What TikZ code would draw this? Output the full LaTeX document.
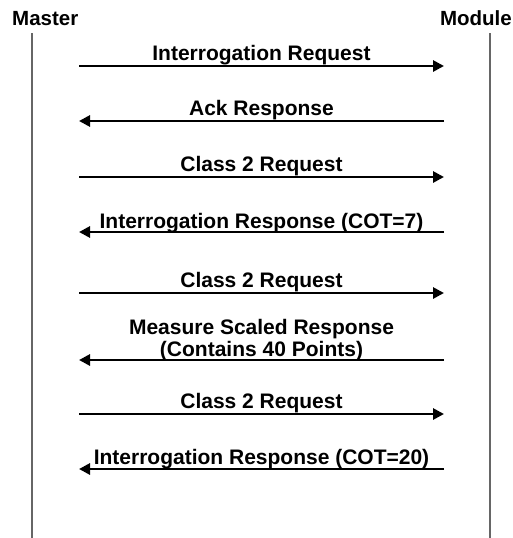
\documentclass[tikz,border=0pt]{standalone}
\usepackage{fontspec}
\setmainfont{Liberation Sans}
\usetikzlibrary{arrows.meta,positioning}

\begin{document}
\begin{tikzpicture}[
  x=1pt, y=-1pt,
  party/.style={font=\bfseries\fontsize{20.5}{22}\selectfont, inner sep=0pt},
  lifeline/.style={draw=black!60, line width=1.3pt},
  msg/.style={-{Triangle[length=11pt,width=11pt]}, line width=2.8pt},
  lbl/.style={font=\bfseries\fontsize{21}{21.5}\selectfont, inner sep=0pt, anchor=base, align=center}
]
\useasboundingbox (0,0) rectangle (512,538);

% parties and lifelines
\node[party, anchor=base west] (master) at (12,25) {Master};
\node[party, anchor=base east] (module) at (512,25) {Module};
\coordinate (mtop) at (32,33);
\coordinate (mbot) at (32,538);
\coordinate (ntop) at (490,33);
\coordinate (nbot) at (490,538);
\draw[lifeline] (mtop) -- (mbot);
\draw[lifeline] (ntop) -- (nbot);

% message end points
\coordinate (l1) at (79,66);   \coordinate (r1) at (444,66);
\coordinate (l2) at (79,121);  \coordinate (r2) at (444,121);
\coordinate (l3) at (79,177);  \coordinate (r3) at (444,177);
\coordinate (l4) at (79,232);  \coordinate (r4) at (444,232);
\coordinate (l5) at (79,293);  \coordinate (r5) at (444,293);
\coordinate (l6) at (79,360);  \coordinate (r6) at (444,360);
\coordinate (l7) at (79,414);  \coordinate (r7) at (444,414);
\coordinate (l8) at (79,469);  \coordinate (r8) at (444,469);

% messages
\draw[msg] (l1) -- (r1) node[lbl, midway, yshift=6pt] (m1) {Interrogation Request};
\draw[msg] (r2) -- (l2) node[lbl, midway, yshift=6pt] (m2) {Ack Response};
\draw[msg] (l3) -- (r3) node[lbl, midway, yshift=6pt] (m3) {Class 2 Request};
\draw[msg] (r4) -- (l4) node[lbl, midway, yshift=4pt] (m4) {Interrogation Response (COT=7)};
\draw[msg] (l5) -- (r5) node[lbl, midway, yshift=6pt] (m5) {Class 2 Request};
\draw[msg] (r6) -- (l6) node[lbl, midway, yshift=4pt] (m6) {Measure Scaled Response\\(Contains 40 Points)};
\draw[msg] (l7) -- (r7) node[lbl, midway, yshift=6pt] (m7) {Class 2 Request};
\draw[msg] (r8) -- (l8) node[lbl, midway, yshift=5pt] (m8) {Interrogation Response (COT=20)};
\end{tikzpicture}
\end{document}
